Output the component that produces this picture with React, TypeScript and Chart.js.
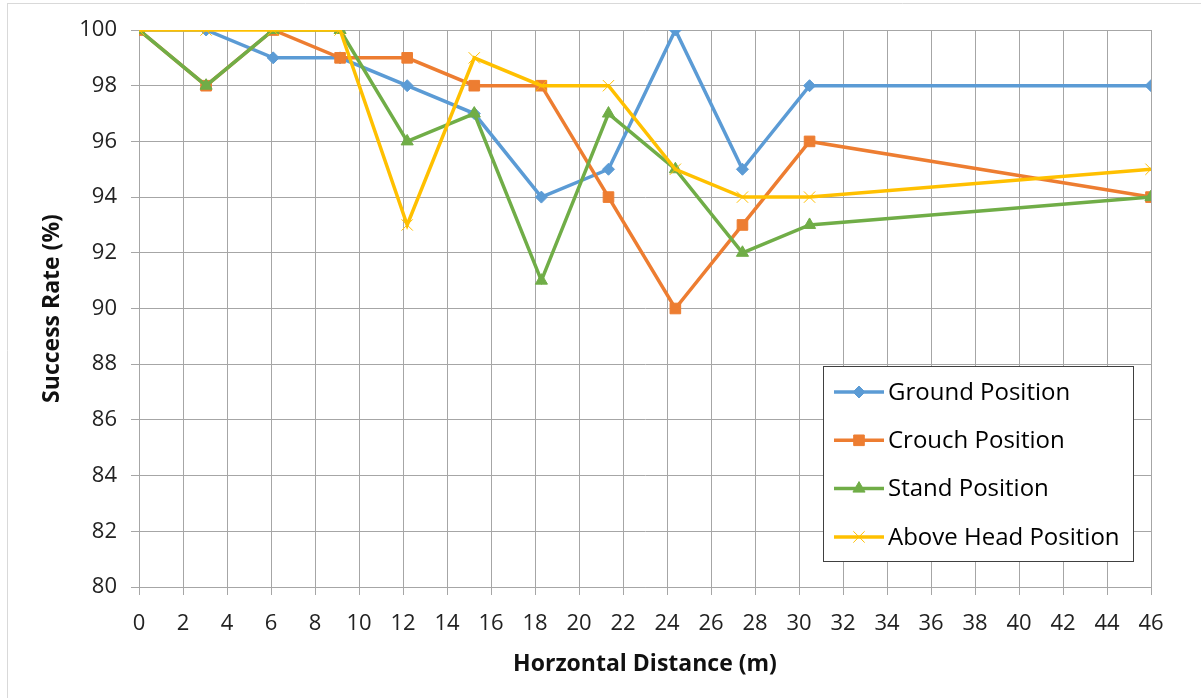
import React, { useEffect, useRef } from "react";
import { Chart, registerables } from "chart.js";
import { drawPoint } from "chart.js/helpers";

Chart.register(...registerables);

// Horizontal distance (m) of each measurement
const distances = [0, 3.05, 6.1, 9.14, 12.19, 15.24, 18.29, 21.34, 24.38, 27.43, 30.48, 46];

// Success rate (%) per position
const groundValues = [100, 100, 99, 99, 98, 97, 94, 95, 100, 95, 98, 98];
const crouchValues = [100, 98, 100, 99, 99, 98, 98, 94, 90, 93, 96, 94];
const standValues = [100, 98, 100, 100, 96, 97, 91, 97, 95, 92, 93, 94];
const aboveHeadValues = [100, 100, 100, 100, 93, 99, 98, 98, 95, 94, 94, 95];

const seriesNames = ["Ground Position", "Crouch Position", "Stand Position", "Above Head Position"];
const seriesColors = ["#5B9BD5", "#ED7D31", "#70AD47", "#FFC000"];
const seriesPointStyles = ["rectRot", "rect", "triangle", "crossRot"];
const seriesPointRadius = [6, 7.5, 7, 8];

const xAxisTitle = "Horzontal Distance (m)";
const yAxisTitle = "Success Rate (%)";
const xMin = 0;
const xMax = 46;
const xStep = 2;
const yMin = 80;
const yMax = 100;
const yStep = 2;

const FONT = "'Open Sans', 'Liberation Sans', sans-serif";

const toPoints = (vals: number[]) => vals.map((v, i) => ({ x: distances[i], y: v }));

export default function App() {
  const canvasRef = useRef<HTMLCanvasElement | null>(null);

  useEffect(() => {
    const canvas = canvasRef.current;
    if (!canvas) return;
    const allValues = [groundValues, crouchValues, standValues, aboveHeadValues];

    const framePlugin = {
      id: "frame",
      beforeDraw(chart: any) {
        const ctx = chart.ctx;
        ctx.save();
        ctx.fillStyle = "#ffffff";
        ctx.fillRect(0, 0, chart.width, chart.height);
        ctx.strokeStyle = "#d9d9d9";
        ctx.lineWidth = 1;
        ctx.beginPath();
        ctx.moveTo(7, 3.5);
        ctx.lineTo(chart.width, 3.5);
        ctx.moveTo(7.5, 3);
        ctx.lineTo(7.5, chart.height);
        ctx.stroke();
        ctx.restore();
      },
    };

    const legendPlugin = {
      id: "boxLegend",
      afterDraw(chart: any) {
        const ctx = chart.ctx;
        const bx = 823.5, by = 366.5, bw = 310, bh = 195;
        ctx.save();
        ctx.fillStyle = "#ffffff";
        ctx.fillRect(bx, by, bw, bh);
        ctx.strokeStyle = "#404040";
        ctx.lineWidth = 1;
        ctx.strokeRect(bx, by, bw, bh);
        seriesNames.forEach((name, i) => {
          const y = 392 + i * 48.3;
          ctx.strokeStyle = seriesColors[i];
          ctx.lineWidth = 3.5;
          ctx.beginPath();
          ctx.moveTo(834, y);
          ctx.lineTo(884, y);
          ctx.stroke();
          ctx.fillStyle = seriesColors[i];
          ctx.strokeStyle = seriesColors[i];
          ctx.lineWidth = 1;
          drawPoint(ctx, { pointStyle: seriesPointStyles[i] as any, radius: seriesPointRadius[i], rotation: 0, borderWidth: 1 } as any, 859, y);
          ctx.fillStyle = "#000000";
          ctx.font = `24px ${FONT}`;
          ctx.textBaseline = "middle";
          ctx.textAlign = "left";
          ctx.fillText(name, 888, y + 1);
        });
        ctx.restore();
      },
    };

    const chart = new Chart(canvas, {
      type: "line",
      data: {
        datasets: seriesNames.map((name, i) => ({
          label: name,
          data: toPoints(allValues[i]),
          borderColor: seriesColors[i],
          backgroundColor: seriesColors[i],
          borderWidth: 3.5,
          pointStyle: seriesPointStyles[i] as any,
          pointRadius: seriesPointRadius[i],
          pointBackgroundColor: seriesColors[i],
          pointBorderColor: seriesColors[i],
          pointBorderWidth: 1,
          tension: 0,
          fill: false,
          order: 3 - i,
        })),
      },
      options: {
        responsive: false,
        animation: false,
        devicePixelRatio: 1,
        layout: { padding: { left: 0, top: 30, right: 50, bottom: 0 } },
        plugins: {
          legend: { display: false },
          tooltip: { enabled: false },
        },
        scales: {
          x: {
            type: "linear",
            min: xMin,
            max: xMax,
            afterFit: (s: any) => {
              s.height = 111;
            },
            ticks: {
              stepSize: xStep,
              color: "#222222",
              font: { family: FONT, size: 22 },
              padding: 16,
              maxRotation: 0,
              autoSkip: false,
            },
            grid: { color: "#a6a6a6", lineWidth: 1, tickLength: 8, drawTicks: true },
            border: { color: "#a6a6a6" },
            title: {
              display: true,
              text: xAxisTitle,
              color: "#111111",
              font: { family: FONT, size: 23, weight: "bold" },
              padding: { top: 0, bottom: 20 },
            },
          },
          y: {
            type: "linear",
            min: yMin,
            max: yMax,
            afterFit: (s: any) => {
              s.width = 139;
            },
            ticks: {
              stepSize: yStep,
              color: "#222222",
              font: { family: FONT, size: 22 },
              padding: 14,
            },
            grid: { color: "#a6a6a6", lineWidth: 1, tickLength: 8, drawTicks: true },
            border: { color: "#a6a6a6" },
            title: {
              display: true,
              text: yAxisTitle,
              color: "#111111",
              font: { family: FONT, size: 23, weight: "bold" },
              padding: { top: 39, bottom: 0 },
            },
          },
        },
      },
      plugins: [framePlugin, legendPlugin],
    });

    return () => {
      chart.destroy();
    };
  }, []);

  return (
    <div style={{ position: "fixed", left: 0, top: 0, width: 1201, height: 698, background: "#fff" }}>
      <canvas ref={canvasRef} width={1201} height={698} style={{ width: 1201, height: 698, display: "block" }} />
    </div>
  );
}
